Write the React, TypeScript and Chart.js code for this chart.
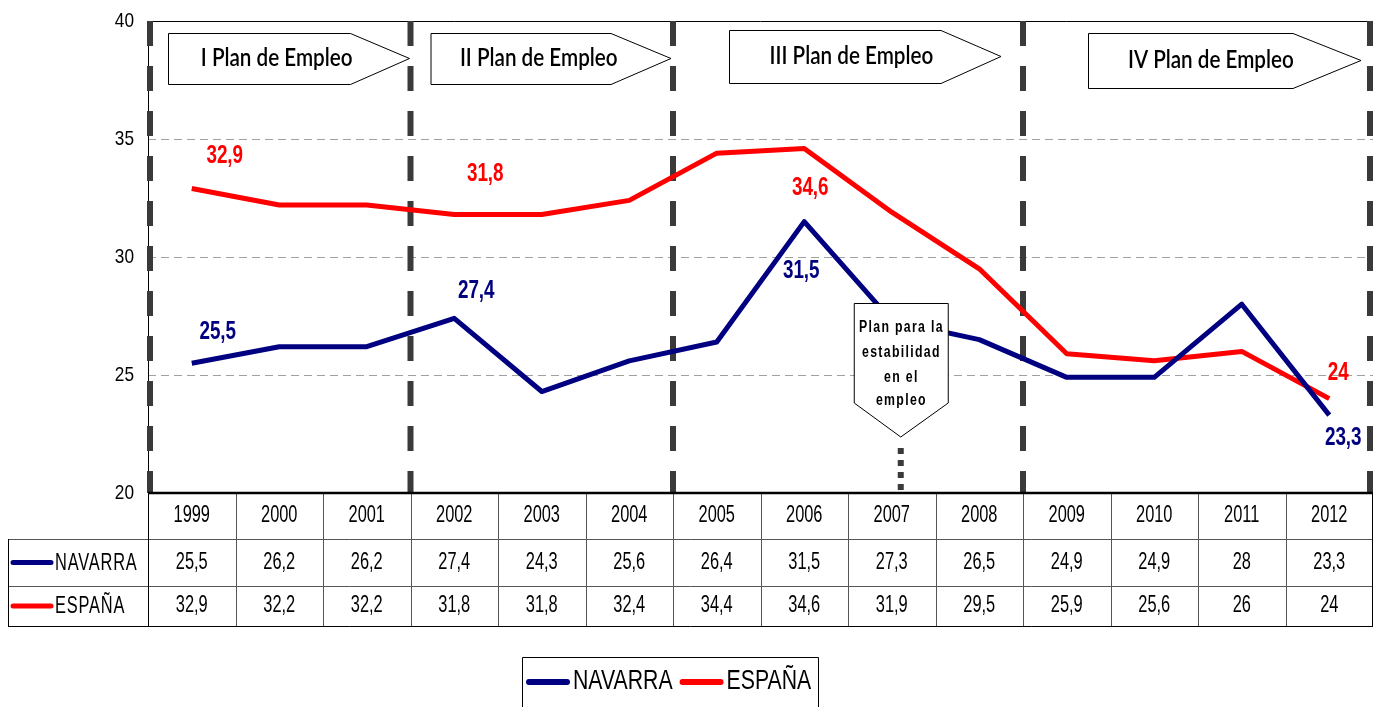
import React, { useEffect, useRef } from "react";
import { Chart, registerables } from "chart.js";

Chart.register(...registerables);

const years = ["1999", "2000", "2001", "2002", "2003", "2004", "2005", "2006", "2007", "2008", "2009", "2010", "2011", "2012"];
const navarra = [25.5, 26.2, 26.2, 27.4, 24.3, 25.6, 26.4, 31.5, 27.3, 26.5, 24.9, 24.9, 28, 23.3];
const espana = [32.9, 32.2, 32.2, 31.8, 31.8, 32.4, 34.4, 34.6, 31.9, 29.5, 25.9, 25.6, 26, 24];
const seriesNames = ["NAVARRA", "ESPAÑA"];
const yMin = 20;
const yMax = 40;
const yStep = 5;
const planLabels = ["I Plan de Empleo", "II Plan de Empleo", "III Plan de Empleo", "IV Plan de Empleo"];
const planBoundaries = [0, 3, 6, 10, 14];
const labelledIdx = [0, 3, 7, 13];
const noteLines = ["Plan para la", "estabilidad", "en el", "empleo"];
const noteYearIdx = 8;

const NAVY = "#000080";
const RED = "#ff0000";
const SANS = "'Liberation Sans', Arial, sans-serif";
const HS = 0.82; // horizontal squeeze to mimic a narrow face

const fmt = (v: number) => String(v).replace(".", ",");

function txt(ctx: CanvasRenderingContext2D, text: string, x: number, y: number, font: string, color: string, align: CanvasTextAlign = "center", hs = 1, vs = 1, spacing = 0) {
  ctx.save();
  ctx.font = font;
  ctx.fillStyle = color;
  ctx.textAlign = align;
  ctx.textBaseline = "middle";
  (ctx as any).letterSpacing = spacing + "px";
  ctx.translate(x, y);
  ctx.scale(hs, vs);
  ctx.fillText(text, align === "center" ? spacing / 2 : 0, 0);
  ctx.restore();
}

const decorPlugin = {
  id: "decor",
  beforeDatasetsDraw(chart: any) {
    const { ctx, chartArea: ca, scales } = chart;
    const xs = scales.x;
    const ys = scales.y;
    const half = (xs.getPixelForValue(1) - xs.getPixelForValue(0)) / 2;
    const bx = (b: number) => xs.getPixelForValue(0) - half + b * 2 * half;
    ys.ticks.forEach((t: any) => {
      txt(ctx, String(t.value), ca.left - 14, ys.getPixelForValue(t.value), "21px " + SANS, "#000", "right", HS, 1);
    });
    ctx.save();
    ctx.strokeStyle = "#000";
    ctx.lineWidth = 1;
    ctx.beginPath();
    ctx.moveTo(ca.left, ca.top + 0.5);
    ctx.lineTo(ca.right, ca.top + 0.5);
    ctx.moveTo(ca.left + 0.5, ca.top);
    ctx.lineTo(ca.left + 0.5, ca.bottom);
    ctx.stroke();
    ctx.strokeStyle = "#3a3a3a";
    ctx.lineWidth = 6;
    ctx.setLineDash([25, 20]);
    planBoundaries.forEach((b, i) => {
      let x = bx(b);
      if (i === 0) x += 2;
      if (i === planBoundaries.length - 1) x -= 3;
      ctx.beginPath();
      ctx.moveTo(x, ca.top);
      ctx.lineTo(x, ca.bottom);
      ctx.stroke();
    });
    ctx.restore();
  },
  afterDatasetsDraw(chart: any) {
    const { ctx, chartArea: ca, scales } = chart;
    const xs = scales.x;
    const ys = scales.y;
    const half = (xs.getPixelForValue(1) - xs.getPixelForValue(0)) / 2;
    const bx = (b: number) => xs.getPixelForValue(0) - half + b * 2 * half;

    const plans = [
      { l: bx(0) + 20, tip: bx(3) - 1, t: 33, b: 84, arr: 59 },
      { l: bx(3) + 20, tip: bx(6) - 2, t: 33, b: 84, arr: 60 },
      { l: bx(6) + 56, tip: bx(10) - 22, t: 30, b: 83, arr: 60 },
      { l: bx(10) + 65, tip: bx(14) - 12, t: 33, b: 88, arr: 68 },
    ];
    plans.forEach((p, i) => {
      const mid = (p.t + p.b) / 2;
      ctx.save();
      ctx.beginPath();
      ctx.moveTo(p.l + 0.5, p.t + 0.5);
      ctx.lineTo(p.tip - p.arr, p.t + 0.5);
      ctx.lineTo(p.tip, mid);
      ctx.lineTo(p.tip - p.arr, p.b + 0.5);
      ctx.lineTo(p.l + 0.5, p.b + 0.5);
      ctx.closePath();
      ctx.fillStyle = "#fff";
      ctx.fill();
      ctx.strokeStyle = "#000";
      ctx.lineWidth = 1;
      ctx.stroke();
      ctx.restore();
      txt(ctx, planLabels[i], p.l + (p.tip - p.l) * 0.45, mid, "600 24px Lato, 'Open Sans', sans-serif", "#000", "center", 0.86, 1);
    });

    const nx = xs.getPixelForValue(noteYearIdx) + 9;
    const nl = nx - 47, nr = nx + 47, nt = 303, ns = 403, ntip = 437;
    ctx.save();
    ctx.beginPath();
    ctx.moveTo(nl + 0.5, nt + 0.5);
    ctx.lineTo(nr + 0.5, nt + 0.5);
    ctx.lineTo(nr + 0.5, ns);
    ctx.lineTo(nx, ntip);
    ctx.lineTo(nl + 0.5, ns);
    ctx.closePath();
    ctx.fillStyle = "#fff";
    ctx.fill();
    ctx.strokeStyle = "#000";
    ctx.lineWidth = 1;
    ctx.stroke();
    ctx.strokeStyle = "#3a3a3a";
    ctx.lineWidth = 6;
    ctx.setLineDash([6, 6]);
    ctx.beginPath();
    ctx.moveTo(nx, ntip + 11);
    ctx.lineTo(nx, ca.bottom);
    ctx.stroke();
    ctx.restore();
    const noteY = [328, 353, 378, 401];
    noteLines.forEach((s, i) => txt(ctx, s, nx, noteY[i], "bold 15px " + SANS, "#000", "center", HS, 1.05, 1.6));

    const navOff = [[26, -31], [22, -27], [-3, 49], [14, 23]];
    const espOff = [[33, -33], [31, -40], [6, 40], [9, -26]];
    const lf = "bold 23px " + SANS;
    labelledIdx.forEach((idx, k) => {
      const x = xs.getPixelForValue(idx);
      txt(ctx, fmt(navarra[idx]), x + navOff[k][0], ys.getPixelForValue(navarra[idx]) + navOff[k][1], lf, NAVY, "center", HS, 1.1);
      txt(ctx, fmt(espana[idx]), x + espOff[k][0], ys.getPixelForValue(espana[idx]) + espOff[k][1], lf, RED, "center", HS, 1.1);
    });

    const top = ca.bottom;
    const r1 = top + 46, r2 = top + 93, r3 = top + 133;
    const tl = 8;
    ctx.save();
    ctx.lineWidth = 1;
    ctx.strokeStyle = "#555";
    ctx.beginPath();
    for (let b = 1; b < years.length; b++) {
      const x = Math.round(bx(b)) + 0.5;
      ctx.moveTo(x, top);
      ctx.lineTo(x, r3);
    }
    ctx.moveTo(tl, r1 + 0.5);
    ctx.lineTo(ca.right, r1 + 0.5);
    ctx.moveTo(tl, r2 + 0.5);
    ctx.lineTo(ca.right, r2 + 0.5);
    ctx.stroke();
    ctx.strokeStyle = "#000";
    ctx.beginPath();
    ctx.moveTo(tl, r3 + 0.5);
    ctx.lineTo(ca.right, r3 + 0.5);
    ctx.moveTo(tl + 0.5, r1);
    ctx.lineTo(tl + 0.5, r3);
    ctx.moveTo(ca.left + 0.5, top);
    ctx.lineTo(ca.left + 0.5, r3);
    ctx.moveTo(ca.right - 0.5, top);
    ctx.lineTo(ca.right - 0.5, r3);
    ctx.stroke();
    ctx.lineWidth = 2.5;
    ctx.beginPath();
    ctx.moveTo(ca.left, top);
    ctx.lineTo(ca.right, top);
    ctx.stroke();
    ctx.restore();

    const tf = "20px " + SANS;
    years.forEach((yr, i) => {
      const x = xs.getPixelForValue(i);
      txt(ctx, yr, x, (top + r1) / 2, tf, "#000", "center", HS, 1.15);
      txt(ctx, fmt(navarra[i]), x, (r1 + r2) / 2, tf, "#000", "center", HS, 1.15);
      txt(ctx, fmt(espana[i]), x, (r2 + r3) / 2, tf, "#000", "center", HS, 1.15);
    });
    const keyRows = [
      { y: (r1 + r2) / 2, c: NAVY, s: seriesNames[0] },
      { y: (r2 + r3) / 2, c: RED, s: seriesNames[1] },
    ];
    keyRows.forEach((k) => {
      ctx.save();
      ctx.strokeStyle = k.c;
      ctx.lineWidth = 5;
      ctx.lineCap = "round";
      ctx.beginPath();
      ctx.moveTo(13, k.y);
      ctx.lineTo(51, k.y);
      ctx.stroke();
      ctx.restore();
      txt(ctx, k.s, 55, k.y + 1, tf, "#000", "left", HS, 1.15, 1);
    });

    const lx = 522, lr = 818, lt = 657;
    ctx.save();
    ctx.strokeStyle = "#000";
    ctx.lineWidth = 1;
    ctx.beginPath();
    ctx.moveTo(lx + 0.5, 712);
    ctx.lineTo(lx + 0.5, lt + 0.5);
    ctx.lineTo(lr + 0.5, lt + 0.5);
    ctx.lineTo(lr + 0.5, 712);
    ctx.stroke();
    ctx.restore();
    const ly = 681;
    const gf = "25px " + SANS;
    const LHS = 0.85;
    let cx = 529;
    [NAVY, RED].forEach((c, i) => {
      ctx.save();
      ctx.strokeStyle = c;
      ctx.lineWidth = 6;
      ctx.lineCap = "round";
      ctx.beginPath();
      ctx.moveTo(cx, ly + 1);
      ctx.lineTo(cx + 38, ly + 1);
      ctx.stroke();
      ctx.font = gf;
      const w = ctx.measureText(seriesNames[i]).width * LHS;
      ctx.restore();
      txt(ctx, seriesNames[i], cx + 44, ly, gf, "#000", "left", LHS, 1.1);
      cx = cx + 44 + w + 10;
    });
  },
};

export default function App() {
  const ref = useRef<HTMLCanvasElement | null>(null);
  useEffect(() => {
    if (!ref.current) return;
    const chart = new Chart(ref.current, {
      type: "line",
      data: {
        labels: years,
        datasets: [
          { label: seriesNames[0], data: navarra, borderColor: NAVY, backgroundColor: NAVY, borderWidth: 5, pointRadius: 0, tension: 0, borderJoinStyle: "round" as any },
          { label: seriesNames[1], data: espana, borderColor: RED, backgroundColor: RED, borderWidth: 5, pointRadius: 0, tension: 0, borderJoinStyle: "round" as any },
        ],
      },
      options: {
        responsive: false,
        animation: false,
        layout: { padding: { top: 21, right: 8, bottom: 214, left: 0 } },
        plugins: { legend: { display: false }, tooltip: { enabled: false } },
        scales: {
          x: { type: "category", offset: true, display: false },
          y: {
            min: yMin,
            max: yMax,
            afterFit: (s: any) => {
              s.width = 148;
            },
            ticks: { stepSize: yStep, display: false },
            grid: {
              drawTicks: false,
              lineWidth: 1,
              color: (c: any) => (c.tick && c.tick.value > yMin && c.tick.value < yMax ? "#a0a0a0" : "rgba(0,0,0,0)"),
            },
            border: { display: false, dash: [8, 5] },
          },
        },
      },
      plugins: [decorPlugin],
    });
    return () => chart.destroy();
  }, []);
  return (
    <div style={{ position: "fixed", left: 0, top: 0, width: 1381, height: 707, background: "#fff" }}>
      <canvas ref={ref} width={1381} height={707} style={{ display: "block", width: 1381, height: 707 }} />
    </div>
  );
}
